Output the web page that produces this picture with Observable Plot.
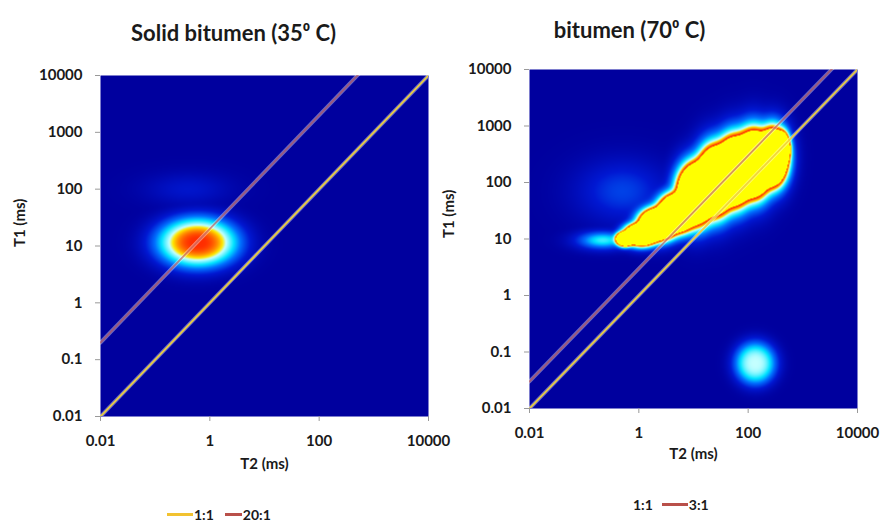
<!DOCTYPE html>
<html>
<head>
<meta charset="utf-8">
<script src="https://cdn.jsdelivr.net/npm/d3@7"></script>
<script src="https://cdn.jsdelivr.net/npm/@observablehq/plot@0.6"></script>
<style>
  html, body { margin: 0; padding: 0; background: #fff; }
  #wrap { position: relative; width: 884px; height: 523px; overflow: hidden; font-family: Lato, "Open Sans", sans-serif; font-weight: 700; color: #1a1a1a; }
  .panel { position: absolute; top: 0; }
  .legend { position: absolute; font-size: 14px; display: flex; align-items: center; white-space: nowrap; }
  .sw { display: inline-block; width: 26px; height: 0; border-top: 3px solid; margin-right: 1px; }
  .gap { display: inline-block; width: 11px; }
</style>
</head>
<body>
<div id="wrap">
  <div class="panel" id="left" style="left:0px"></div>
  <div class="panel" id="right" style="left:440px"></div>
  <div class="legend" style="left:167px; top:506px;"><span class="sw" style="border-color:#f2c230"></span>1:1<span class="gap"></span><span class="sw" style="border-color:#b9504a; width:17px"></span>20:1</div>
  <div class="legend" style="left:606px; top:496px;"><span class="sw" style="border-color:transparent"></span>1:1<span class="gap" style="width:9px"></span><span class="sw" style="border-color:#b9504a"></span>3:1</div>
</div>
<script>
// ---- axis ticks (ms) ----
const xTickValues = [0.01, 1, 100, 10000];
const xTickLabels = ["0.01", "1", "100", "10000"];
const yTickValues = [0.01, 0.1, 1, 10, 100, 1000, 10000];
const yTickLabels = ["0.01", "0.1", "1", "10", "100", "1000", "10000"];

// ---- panel titles / labels ----
const titles = ["Solid bitumen (35\u2070 C)", "bitumen (70\u2070 C)"];
const xLabel = "T2 (ms)";
const yLabel = "T1 (ms)";

// ---- reference ratio lines (T1:T2) ----
const leftRatios = [1, 20];
const rightRatios = [1, 3];

// ---- left panel peaks (solid bitumen, 35 C) ----
const leftPeakT2     = [0.6, 0.4];
const leftPeakT1     = [11.5, 100];
const leftPeakAmp    = [0.725, 0.13];
const leftSpreadT2   = [0.64, 0.55];  // decades
const leftSpreadT1   = [0.38, 0.2];   // decades
const leftPeakShape  = [2.8, 2];

// ---- right panel peaks (bitumen, 70 C) ----
const rightPeakT2    = [0.56, 1.12, 2.24, 5.0, 11.2, 25.1, 56.2, 126, 282, 417, 0.22, 0.5, 135];
const rightPeakT1    = [10, 12, 18.2, 28.8, 63, 107, 158, 214, 282, 398, 9.5, 70, 0.063];
const rightPeakAmp   = [2, 2, 2, 2, 2, 2, 2, 2, 2, 2, 0.46, 0.22, 0.55];
const rightSpreadT2  = [0.12, 0.22, 0.25, 0.25, 0.25, 0.25, 0.25, 0.25, 0.2, 0.1, 0.35, 0.6, 0.33];
const rightSpreadT1  = [0.09, 0.14, 0.2, 0.24, 0.38, 0.43, 0.43, 0.42, 0.36, 0.2, 0.12, 0.4, 0.33];
const rightPeakShape = [2, 2, 2, 2, 2, 2, 2, 2, 2, 2, 2, 2, 3];

// ---- colour map (jet-like, saturating to yellow) ----
const colorDomain = [0, 0.15, 0.3, 0.42, 0.55, 0.6, 0.65, 0.72, 0.745, 0.76, 10];
const colorRange  = ["#00009e", "#0018d2", "#0070ff", "#00e4ff", "#c4ffff", "#ffe800", "#ff9800", "#ff3000", "#ff2000", "#ffff00", "#ffff00"];

function makePeaks(t2, t1, amp, s2, s1, sh) {
  return t2.map((v, i) => ({x: Math.log10(v), y: Math.log10(t1[i]), a: amp[i], sx: s2[i], sy: s1[i], p: sh[i]}));
}
// soft maximum of the peak surfaces
function density(peaks) {
  return (x, y) => {
    let s = 0;
    for (const pk of peaks) {
      const dx = (x - pk.x) / pk.sx, dy = (y - pk.y) / pk.sy;
      const r2 = dx * dx + dy * dy;
      const v = pk.a * Math.exp(-0.5 * Math.pow(r2, pk.p / 2));
      s += v * v * v;
    }
    return Math.cbrt(s);
  };
}
function fmtX(d) { const i = xTickValues.findIndex(v => Math.abs(Math.log10(v) - d) < 1e-9); return i < 0 ? "" : xTickLabels[i]; }
function fmtY(d) { const i = yTickValues.findIndex(v => Math.abs(Math.log10(v) - d) < 1e-9); return i < 0 ? "" : yTickLabels[i]; }

function panel(o) {
  const lines = o.ratios.map((r, i) => ({r, i, pts: [{x: -2, y: -2 + Math.log10(r)}, {x: 4, y: 4 + Math.log10(r)}]}));
  const linePts = lines.flatMap(l => l.pts.map(p => ({...p, r: l.r})));
  const fw = o.width - o.ml - o.mr, fh = o.height - o.mt - o.mb;
  return Plot.plot({
    width: o.width, height: o.height,
    marginLeft: o.ml, marginRight: o.mr, marginTop: o.mt, marginBottom: o.mb,
    x: {type: "linear", domain: [-2, 4], ticks: xTickValues.map(Math.log10), tickFormat: fmtX, tickSize: 5, tickPadding: 14, label: null},
    y: {type: "linear", domain: [-2, 4], ticks: yTickValues.map(Math.log10), tickFormat: fmtY, tickSize: 5, tickPadding: 13, label: null},
    color: {type: "linear", domain: colorDomain, range: colorRange},
    style: {fontFamily: "Lato, 'Open Sans', sans-serif", fontSize: "15px", fontWeight: "700", color: "#1a1a1a", background: "transparent", overflow: "visible"},
    marks: [
      Plot.raster({x1: -2, x2: 4, y1: -2, y2: 4, width: fw, height: fh, fill: density(o.peaks), imageRendering: "auto"}),
      Plot.line(linePts, {x: "x", y: "y", z: "r", stroke: "white", strokeOpacity: 0.4, strokeWidth: 3.8, clip: true}),
      Plot.line(linePts, {x: "x", y: "y", z: "r", stroke: d => d.r === 1 ? "#f0d23a" : "#c0504d", strokeOpacity: d => d.r === 1 ? 0.95 : 0.62, strokeWidth: 1.8, clip: true}),
      Plot.axisX({ticks: xTickValues.map(Math.log10), tickFormat: fmtX, tickSize: 5, tickPadding: 14, stroke: "#999", fill: "#1a1a1a", label: null}),
      Plot.axisY({ticks: yTickValues.map(Math.log10), tickFormat: fmtY, tickSize: 5, tickPadding: 13, stroke: "#999", fill: "#1a1a1a", label: null}),
      Plot.text([o.title], {frameAnchor: "top", dx: o.titleDx, dy: o.titleDy, text: d => d, fontSize: 22, fontWeight: 700, fill: "#1a1a1a"}),
      Plot.text([xLabel], {frameAnchor: "bottom", dy: o.xlabDy, text: d => d, fontSize: 15, fontWeight: 700, fill: "#1a1a1a"}),
      Plot.text([yLabel], {frameAnchor: "left", dx: o.ylabDx, dy: o.ylabDy, rotate: -90, text: d => d, fontSize: 15, fontWeight: 700, fill: "#1a1a1a"})
    ]
  });
}

document.getElementById("left").append(panel({
  width: 450, height: 523, ml: 100, mr: 22, mt: 75, mb: 107,
  peaks: makePeaks(leftPeakT2, leftPeakT1, leftPeakAmp, leftSpreadT2, leftSpreadT1, leftPeakShape),
  ratios: leftRatios, title: titles[0], titleDx: -31, titleDy: -50, xlabDy: 52, ylabDx: -80, ylabDy: 1
}));
document.getElementById("right").append(panel({
  width: 444, height: 523, ml: 89, mr: 27, mt: 69, mb: 115,
  peaks: makePeaks(rightPeakT2, rightPeakT1, rightPeakAmp, rightSpreadT2, rightSpreadT1, rightPeakShape),
  ratios: rightRatios, title: titles[1], titleDx: -64, titleDy: -47, xlabDy: 50, ylabDx: -80, ylabDy: -1
}));
</script>
</body>
</html>
